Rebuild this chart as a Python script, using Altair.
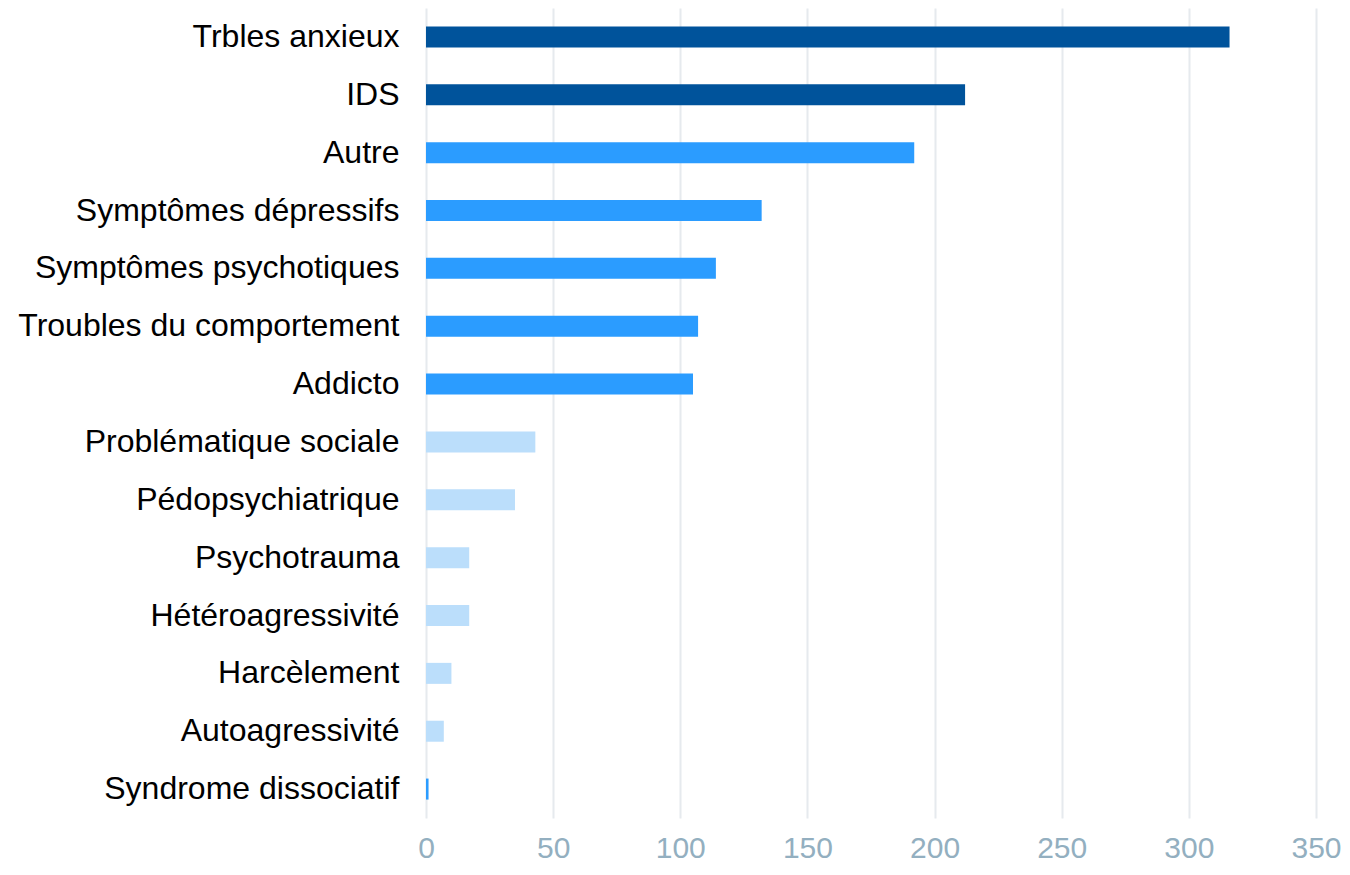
import altair as alt
import pandas as pd

categories = [
    "Trbles anxieux", "IDS", "Autre", "Symptômes dépressifs",
    "Symptômes psychotiques", "Troubles du comportement", "Addicto",
    "Problématique sociale", "Pédopsychiatrique", "Psychotrauma",
    "Hétéroagressivité", "Harcèlement", "Autoagressivité",
    "Syndrome dissociatif",
]
values = [316, 212, 192, 132, 114, 107, 105, 43, 35, 17, 17, 10, 7, 1]
groups = ["dark", "dark", "medium", "medium", "medium", "medium", "medium",
          "light", "light", "light", "light", "light", "light", "medium"]

group_names = ["dark", "medium", "light"]
group_colors = ["#00539B", "#2B9CFF", "#BBDEFB"]

df = pd.DataFrame({"cat": categories, "val": values, "grp": groups})

chart = alt.Chart(df).mark_bar(size=21).encode(
    y=alt.Y("cat:N", sort=categories, title=None,
            axis=alt.Axis(labelFont="Liberation Sans", labelFontSize=32,
                          labelColor="#000000", ticks=False, domain=False,
                          labelPadding=27, labelLimit=500)),
    x=alt.X("val:Q", title=None,
            scale=alt.Scale(domain=[0, 350], nice=False),
            axis=alt.Axis(values=[0, 50, 100, 150, 200, 250, 300, 350],
                          labelFont="Liberation Sans", labelFontSize=30,
                          labelColor="#93AFC0", ticks=False, domain=False,
                          labelPadding=15, grid=True, gridColor="#E6EAEE",
                          gridWidth=2, labelFlush=False)),
    color=alt.Color("grp:N", scale=alt.Scale(domain=group_names, range=group_colors),
                    legend=None),
).properties(
    width=890, height=810,
    autosize=alt.AutoSizeParams(type="none"),
    padding={"left": 418, "top": 0, "right": 26, "bottom": 49},
).configure_view(stroke=None)

chart.save("out.html", embed_options={"renderer": "svg", "actions": False})
